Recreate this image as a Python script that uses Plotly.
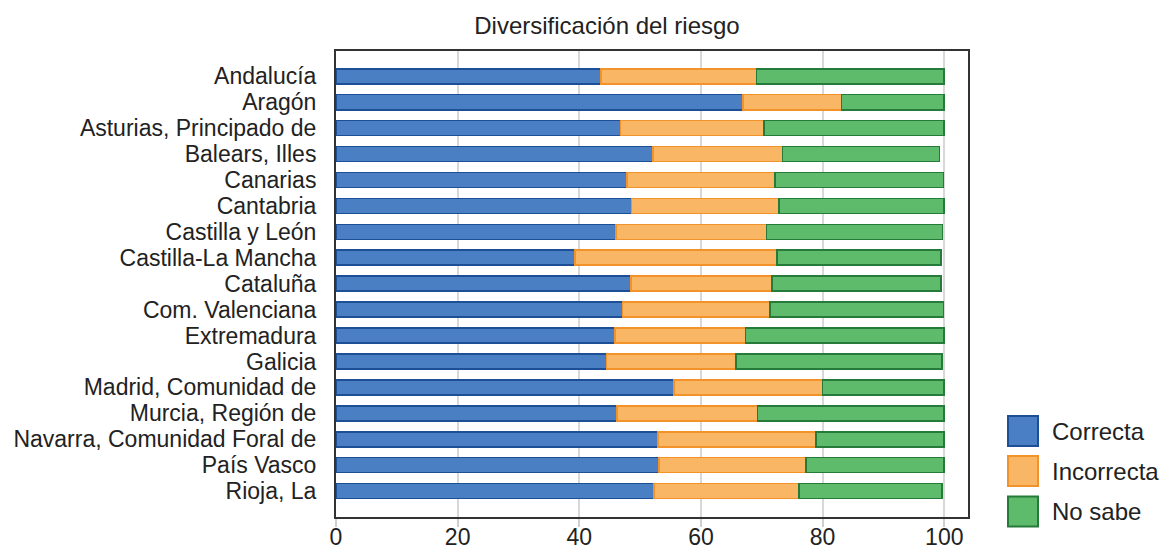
import plotly.graph_objects as go

# ---- data ----
regions = [
    "Andalucía", "Aragón", "Asturias, Principado de", "Balears, Illes", "Canarias",
    "Cantabria", "Castilla y León", "Castilla-La Mancha", "Cataluña", "Com. Valenciana",
    "Extremadura", "Galicia", "Madrid, Comunidad de", "Murcia, Región de",
    "Navarra, Comunidad Foral de", "País Vasco", "Rioja, La",
]
correcta = [43.6, 66.9, 46.8, 52.1, 47.8, 48.6, 46.0, 39.3, 48.5, 47.1, 45.9, 44.5, 55.6, 46.2, 52.9, 53.1, 52.3]
incorrecta = [25.5, 16.2, 23.6, 21.3, 24.4, 24.2, 24.8, 33.2, 23.2, 24.2, 21.4, 21.3, 24.4, 23.1, 26.0, 24.2, 23.8]
no_sabe = [30.9, 16.9, 29.6, 25.8, 27.7, 27.2, 28.9, 27.0, 27.8, 28.6, 32.7, 33.8, 20.0, 30.7, 21.1, 22.7, 23.5]
series_names = ["Correcta", "Incorrecta", "No sabe"]
x_ticks = [0, 20, 40, 60, 80, 100]
title_text = "Diversificación del riesgo"

# ---- style ----
fills = ["#4a80c3", "#f9b664", "#5dbb6b"]
edges = ["#1d4f97", "#f4922a", "#267a3a"]
FONT = "Liberation Sans, Arial, Helvetica, sans-serif"
TXT = "#222222"

W, H = 1163, 551
L, R, T, B = 336, 195, 51, 34
PW, PH = W - L - R, H - T - B

def px_x(p):
    return (p - L) / PW

def px_y(p):
    return (H - B - p) / PH

fig = go.Figure()
for name, vals, fc, ec in zip(series_names, [correcta, incorrecta, no_sabe], fills, edges):
    fig.add_trace(go.Bar(
        y=regions, x=vals, name=name, orientation="h",
        marker=dict(color=fc, line=dict(color=ec, width=1.6)),
        showlegend=False,
    ))

# custom legend with large swatches
leg_y = [431, 471, 511.5]
shapes = []
annotations = []
for name, fc, ec, cy in zip(series_names, fills, edges, leg_y):
    shapes.append(dict(
        type="rect", xref="paper", yref="paper",
        x0=px_x(1008), x1=px_x(1038), y0=px_y(cy + 15), y1=px_y(cy - 15),
        fillcolor=fc, line=dict(color=ec, width=2),
    ))
    annotations.append(dict(
        xref="paper", yref="paper", x=px_x(1050), y=px_y(cy),
        xanchor="left", yanchor="middle", text=name, showarrow=False,
        font=dict(family=FONT, size=24, color=TXT),
    ))

fig.update_layout(
    width=W, height=H,
    margin=dict(l=L, r=R, t=T, b=B, pad=0),
    barmode="stack", bargap=0.42,
    plot_bgcolor="white", paper_bgcolor="white",
    font=dict(family=FONT, size=23, color=TXT),
    title=dict(
        text=title_text, xref="container", yref="container",
        x=607 / W, y=1 - 26 / H, xanchor="center", yanchor="middle",
        font=dict(family=FONT, size=24, color=TXT),
    ),
    xaxis=dict(
        range=[0, 103.9], tickmode="array", tickvals=x_ticks,
        ticktext=[str(v) for v in x_ticks],
        showgrid=True, gridcolor="#d8d8d8", gridwidth=2,
        showline=True, linecolor="#333333", linewidth=2, mirror=True,
        zeroline=False, ticks="outside", ticklen=8, tickwidth=2, tickcolor="#cfcfcf",
        ticklabelstandoff=-10, automargin=False,
        tickfont=dict(family=FONT, size=23, color=TXT),
    ),
    yaxis=dict(
        categoryorder="array", categoryarray=regions,
        tickmode="array", tickvals=regions, ticktext=regions,
        range=[17.0, -0.975],
        showgrid=False, showline=True, linecolor="#333333", linewidth=2, mirror=True,
        ticks="", ticklabelstandoff=13, automargin=False,
        tickfont=dict(family=FONT, size=23, color=TXT),
    ),
    shapes=shapes,
    annotations=annotations,
)

fig.write_html(
    "out.html",
    config={"displayModeBar": False},
    post_script="document.body.style.margin='0';document.body.style.overflow='hidden';",
)
